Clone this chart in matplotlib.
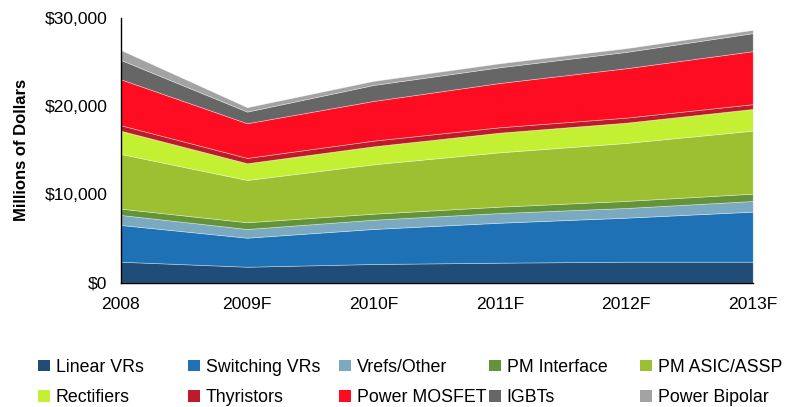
import matplotlib
matplotlib.use("Agg")
import matplotlib.pyplot as plt
from matplotlib.patches import Patch
from matplotlib.ticker import FuncFormatter

years = ["2008", "2009F", "2010F", "2011F", "2012F", "2013F"]

linear_vrs = [2380, 1810, 2120, 2270, 2380, 2380]
switching_vrs = [4160, 3290, 3970, 4530, 4990, 5670]
vrefs_other = [1140, 990, 1050, 1100, 1100, 1210]
pm_interface = [710, 760, 680, 720, 800, 830]
pm_asic_assp = [6200, 4790, 5600, 6160, 6570, 7140]
rectifiers = [2640, 1900, 2040, 2230, 2300, 2460]
thyristors = [620, 600, 640, 610, 570, 540]
power_mosfet = [5210, 3930, 4500, 5020, 5600, 6010]
igbts = [2190, 1320, 1810, 1780, 1850, 2040]
power_bipolar = [1130, 500, 460, 450, 420, 370]

labels = ["Linear VRs", "Switching VRs", "Vrefs/Other", "PM Interface", "PM ASIC/ASSP",
          "Rectifiers", "Thyristors", "Power MOSFET", "IGBTs", "Power Bipolar"]
series = [linear_vrs, switching_vrs, vrefs_other, pm_interface, pm_asic_assp,
          rectifiers, thyristors, power_mosfet, igbts, power_bipolar]
colors = ["#1F4D78", "#1F71B5", "#7AA9C0", "#64943A", "#9DC032",
          "#C3F033", "#BD1B2A", "#FE0C22", "#666666", "#A3A3A3"]

plt.rcParams['font.family'] = ['Liberation Sans', 'DejaVu Sans']

fig = plt.figure(figsize=(7.86, 4.07), dpi=100)
ax = fig.add_axes([120.7 / 786, 1 - 282.7 / 407, (752.7 - 120.7) / 786, (282.7 - 18) / 407])

x = list(range(len(years)))
ax.stackplot(x, *series, colors=colors, edgecolor=(1, 1, 1, 0.45), linewidth=0.5)

ax.set_xlim(0, len(years) - 1)
ax.set_ylim(0, 30000)
ax.set_yticks([0, 10000, 20000, 30000])
ax.yaxis.set_major_formatter(FuncFormatter(lambda v, p: "${:,.0f}".format(v)))
ax.set_xticks(x)
ax.set_xticklabels(years)
ax.tick_params(axis='both', length=0, labelsize=12.6, colors='black')
ax.tick_params(axis='y', pad=9.5)
ax.tick_params(axis='x', pad=10)
for s in ['top', 'right']:
    ax.spines[s].set_visible(False)
for s in ['left', 'bottom']:
    ax.spines[s].set_color('black')
    ax.spines[s].set_linewidth(1.0)
ax.set_ylabel("Millions of Dollars", fontsize=12, fontweight='bold')
ax.yaxis.set_label_coords(-0.145, 0.5)

handles = [Patch(facecolor=c, edgecolor='none') for c in colors]
col_x = [38, 188, 339, 489, 640]
for c in range(5):
    fig.legend(handles=[handles[c], handles[c + 5]], labels=[labels[c], labels[c + 5]],
               loc='center left', bbox_to_anchor=(col_x[c] / 786, 1 - 382.5 / 407),
               frameon=False, fontsize=12.8, handlelength=0.68, handleheight=0.62,
               handletextpad=0.32, labelspacing=0.78, borderpad=0, borderaxespad=0)

fig.savefig("out.png", dpi=100)
